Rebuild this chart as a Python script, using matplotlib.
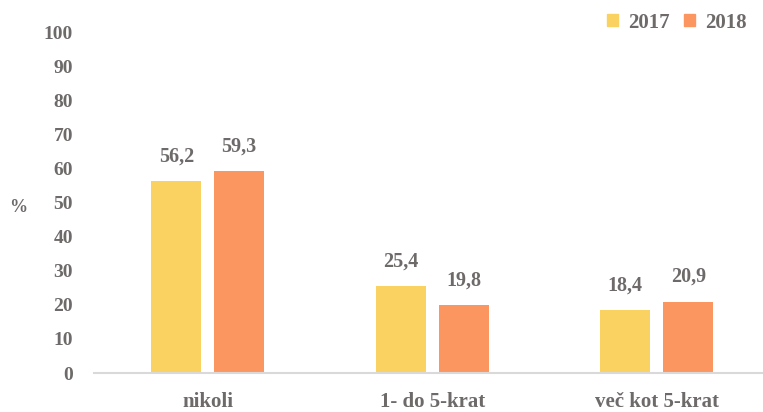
import matplotlib
matplotlib.use("Agg")
import matplotlib.pyplot as plt
import numpy as np
from matplotlib.patches import Patch

categories = ["nikoli", "1- do 5-krat", "več kot 5-krat"]
series_names = ["2017", "2018"]
values_2017 = [56.2, 25.4, 18.4]
values_2018 = [59.3, 19.8, 20.9]
yticks = [0, 10, 20, 30, 40, 50, 60, 70, 80, 90, 100]

c17 = "#F9D262"
c18 = "#FC9661"
tcol = "#6E6A6A"
plt.rcParams['font.family'] = ['Liberation Serif', 'DejaVu Serif']
plt.rcParams['font.weight'] = 'bold'

fig = plt.figure(figsize=(7.63, 4.12), dpi=100)
ax = fig.add_axes([94/763, 39/412, 675/763, 341/412])

x = np.arange(len(categories))
w = 0.222
off = 0.14
b1 = ax.bar(x - off, values_2017, w, color=c17, zorder=2)
b2 = ax.bar(x + off, values_2018, w, color=c18, zorder=2)
for bars, vals in ((b1, values_2017), (b2, values_2018)):
    for r, v in zip(bars, vals):
        ax.text(r.get_x() + r.get_width()/2, v + 4.3, f"{v:.1f}".replace(".", ","),
                ha="center", va="bottom", fontsize=14.5, color=tcol, fontweight="bold")

ax.set_xlim(-0.507, 2.5)
ax.set_ylim(0, 100)
ax.set_yticks(yticks)
ax.set_yticklabels([str(t) for t in yticks], fontsize=14, color=tcol, fontweight="bold")
ax.set_xticks(x)
ax.set_xticklabels(categories, fontsize=15, color=tcol, fontweight="bold")
ax.tick_params(axis="y", length=0, pad=15)
ax.tick_params(axis="x", length=0, pad=14)
for s in ["top", "right", "left"]:
    ax.spines[s].set_visible(False)
ax.spines["bottom"].set_color("#D9D9D9")
ax.spines["bottom"].set_linewidth(1.5)
fig.text(18/763, 1 - 208/412, "%", fontsize=13, color=tcol, ha="center", va="center", fontweight="bold")

handles = [Patch(color=c17), Patch(color=c18)]
fig.legend(handles, series_names, loc="upper right", bbox_to_anchor=(1.0, 1.01),
           ncol=2, frameon=False, prop={"size": 15, "weight": "bold"},
           handlelength=0.55, handleheight=0.55, handletextpad=0.45, columnspacing=0.7,
           borderpad=0.3, labelcolor=tcol)

fig.savefig("out.png", dpi=100)
